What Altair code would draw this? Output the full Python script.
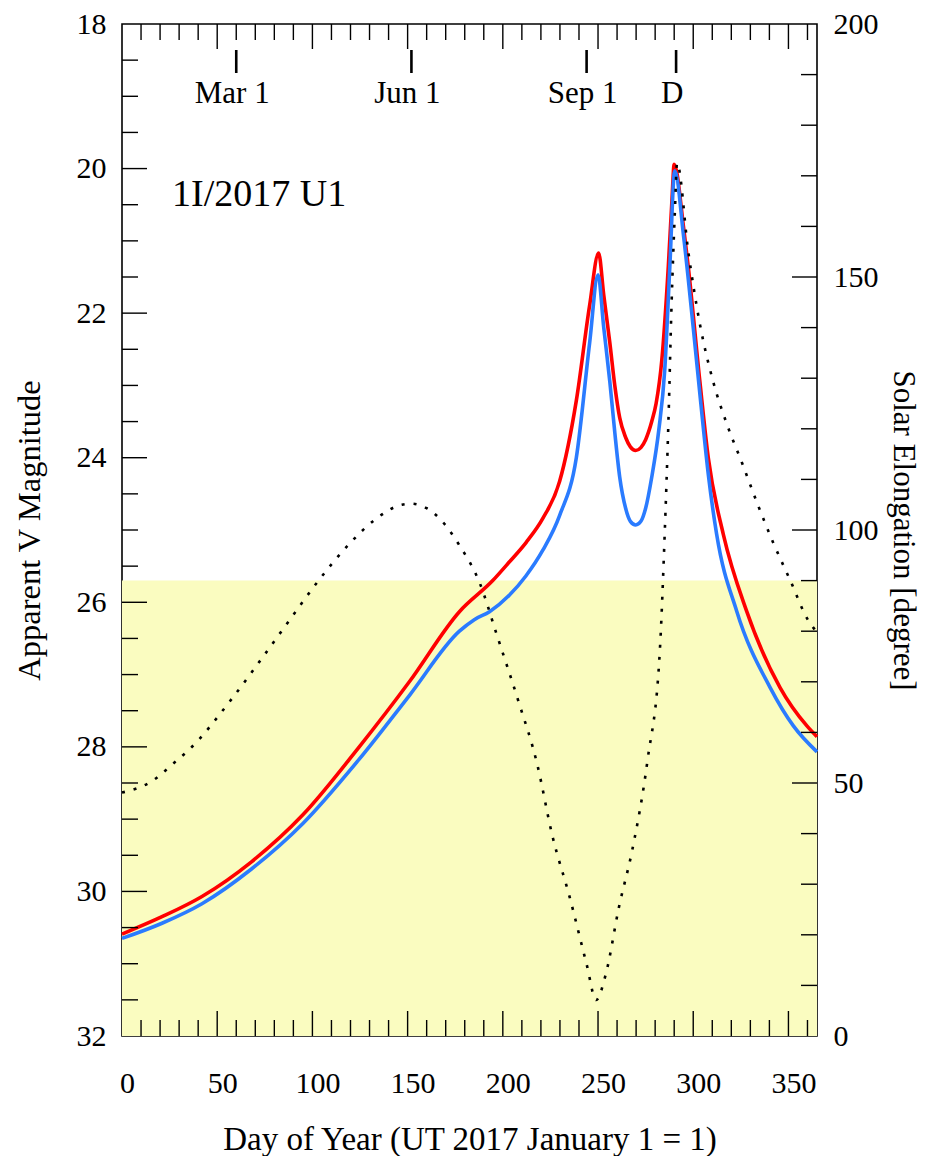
import altair as alt
import pandas as pd

# ---------------- data ----------------
red_day = [0, 21, 42, 68, 95, 124.6, 150.9, 177.2, 194.7, 203.5, 212.3, 221, 229.8,
           238.6, 245.6, 250.3, 253, 256.2, 258.8, 261.4, 264.5, 267, 269.8, 272.5,
           275, 278.2, 280.5, 283.5, 286.9, 288.8, 290, 295, 297.4, 303.5, 307.9,
           315.8, 328, 345.6, 359.7, 365]
red_mag = [30.59, 30.35, 30.07, 29.59, 28.94, 28.00, 27.10, 26.13, 25.70, 25.44,
           25.17, 24.84, 24.33, 23.21, 21.89, 21.17, 21.75, 22.41, 23.0, 23.45,
           23.72, 23.85, 23.90, 23.86, 23.75, 23.50, 23.25, 22.65, 21.36, 20.45,
           19.94, 20.83, 21.36, 22.95, 24.0, 25.06, 26.12, 27.18, 27.71, 27.86]

blue_day = [0, 21, 42, 68, 95, 124.6, 150.9, 177.2, 185, 193, 203.5, 212, 221,
            229.8, 238.6, 245.6, 250, 253, 256.2, 258.8, 261.4, 264.5, 267, 269.8,
            272.5, 275, 278.2, 282, 285, 287.7, 290.3, 295, 300, 304, 308, 312.3,
            322.8, 340.4, 352.6, 365]
blue_mag = [30.65, 30.44, 30.17, 29.69, 29.06, 28.17, 27.29, 26.40, 26.24, 26.13,
            25.90, 25.64, 25.28, 24.80, 24.0, 22.41, 21.47, 22.2, 22.95, 23.65,
            24.27, 24.70, 24.88, 24.93, 24.88, 24.70, 24.27, 23.6, 22.8, 21.36,
            20.03, 20.95, 22.2, 23.25, 24.25, 25.06, 26.12, 27.18, 27.71, 28.07]

elong_day = [0, 15, 28, 35, 58, 73, 88, 103, 120, 133, 147, 152, 160, 167, 177,
             188, 197, 208, 218, 226, 235, 244, 249, 254, 261, 268, 276, 282.5,
             285, 287, 288.6, 290.4, 291.5, 297.4, 303.5, 310.5, 317.6, 325.5,
             333.4, 342, 351, 360, 364.5]
elong_val = [48.1, 50.2, 54.2, 56.5, 66.8, 74.4, 82.2, 89.9, 97.5, 102.1, 105.0,
             105.2, 104.3, 102.2, 97.1, 89.4, 79.1, 66.4, 53.8, 39.6, 27.6, 14.2,
             7.1, 12.1, 25.5, 36.8, 54.5, 76.4, 99.1, 121.8, 144.4, 163.3, 172.5,
             155.0, 140.7, 129.3, 121.0, 113.4, 105.5, 97.5, 90.0, 82.4, 80.0]

shade_day = [0, 365]          # shaded band (elongation below 90 deg)
shade_elong = [0, 90]

marker_day = [60, 152, 244, 291]
marker_label = ["Mar 1", "Jun 1", "Sep 1", "D"]

x_label_values = [0, 50, 100, 150, 200, 250, 300, 350]
mag_label_values = [18, 20, 22, 24, 26, 28, 30, 32]
elong_label_values = [0, 50, 100, 150, 200]

x_minor = [d for d in range(10, 361, 10) if d % 50]
x_major = [50, 100, 150, 200, 250, 300, 350]
mag_minor = [18.5 + 0.5 * i for i in range(27) if (18.5 + 0.5 * i) % 2]
mag_major = [20, 22, 24, 26, 28, 30]
el_minor = [e for e in range(10, 191, 10) if e % 50]
el_major = [50, 100, 150]

object_name = "1I/2017 U1"

# ---------------- layout / style ----------------
W, H = 695, 1012
MIN_T, MAJ_T = 16, 25
F = "Liberation Serif"

xs = alt.Scale(domain=[0, 365], nice=False, zero=False)
ys_mag = alt.Scale(domain=[18, 32], reverse=True, nice=False, zero=False)
ys_el = alt.Scale(domain=[0, 200], nice=False, zero=False)

x_axis = alt.Axis(values=x_label_values, title="Day of Year (UT 2017 January 1 = 1)",
                  ticks=False, domain=False, grid=False, labelFlush=False,
                  labelOverlap=False, labelPadding=32, labelOffset=5,
                  labelFontSize=30, titleFontSize=33, titlePadding=25, format="d")
mag_axis = alt.Axis(values=mag_label_values, orient="left", title="Apparent V Magnitude",
                    ticks=False, domain=False, grid=False, labelPadding=16,
                    labelFontSize=30, titleFontSize=32.5, titlePadding=30,
                    labelOverlap=False, labelBound=False, format="d")
el_axis = alt.Axis(values=elong_label_values, orient="right",
                   title="Solar Elongation [degree]", ticks=False, domain=False,
                   grid=False, labelPadding=16, labelFontSize=30, titleFontSize=31,
                   titlePadding=8, labelOverlap=False, labelBound=False, format="d")

X = alt.X("day:Q", scale=xs, axis=x_axis)
Ymag = alt.Y("mag:Q", scale=ys_mag, axis=mag_axis)
Yel = alt.Y("el:Q", scale=ys_el, axis=el_axis)

# ---------------- layers ----------------
df_shade = pd.DataFrame({"day": [shade_day[0]], "day2": [shade_day[1]],
                         "el": [shade_elong[0]], "el2": [shade_elong[1]]})
shade = alt.Chart(df_shade).mark_rect(color="#fafcc0").encode(
    x=X, x2="day2:Q",
    y=alt.Y("el:Q", scale=ys_el, axis=None), y2="el2:Q")

df_red = pd.DataFrame({"day": red_day, "mag": red_mag})
df_blue = pd.DataFrame({"day": blue_day, "mag": blue_mag})
red_line = alt.Chart(df_red).mark_line(color="#ff0000", strokeWidth=3.6,
                                       interpolate="monotone").encode(x=X, y=Ymag)
blue_line = alt.Chart(df_blue).mark_line(color="#2a7bff", strokeWidth=3.6,
                                         interpolate="monotone").encode(x=X, y=Ymag)

tick_style = dict(color="black", strokeWidth=1.4)

def x_ticks(days, length):
    d = pd.DataFrame({"day": days})
    top = alt.Chart(d).mark_rule(**tick_style).encode(
        x=X, y=alt.value(0), y2=alt.value(length))
    bot = alt.Chart(d).mark_rule(**tick_style).encode(
        x=X, y=alt.value(H - length), y2=alt.value(H))
    return [top, bot]

def mag_ticks(vals, length):
    d = pd.DataFrame({"mag": vals})
    return alt.Chart(d).mark_rule(**tick_style).encode(
        y=Ymag, x=alt.value(0), x2=alt.value(length))

def el_ticks(vals, length):
    d = pd.DataFrame({"el": vals})
    return alt.Chart(d).mark_rule(**tick_style).encode(
        y=Yel, x=alt.value(W - length), x2=alt.value(W))

df_mark = pd.DataFrame({"day": marker_day, "label": marker_label})
mark_rules = alt.Chart(df_mark).mark_rule(color="black", strokeWidth=2.6).encode(
    x=X, y=alt.value(26), y2=alt.value(49))
mark_text = alt.Chart(df_mark).mark_text(font=F, fontSize=31, baseline="middle",
                                         align="center", color="black", dx=-4).encode(
    x=X, y=alt.value(70), text="label:N")

title_txt = alt.Chart(pd.DataFrame({"t": [object_name]})).mark_text(
    font=F, fontSize=38, align="left", baseline="middle", color="black").encode(
    x=alt.value(50), y=alt.value(171), text="t:N")

left_group = alt.layer(
    red_line, blue_line,
    mag_ticks(mag_minor, MIN_T), mag_ticks(mag_major, MAJ_T),
    *x_ticks(x_minor, MIN_T), *x_ticks(x_major, MAJ_T),
    mark_rules, mark_text, title_txt,
)

df_el = pd.DataFrame({"day": elong_day, "el": elong_val})
dotted = alt.Chart(df_el).mark_line(color="black", strokeWidth=2.6,
                                    strokeDash=[3, 9], interpolate="monotone").encode(
    x=X, y=Yel)
right_group = alt.layer(dotted, el_ticks(el_minor, MIN_T), el_ticks(el_major, MAJ_T))

chart = alt.layer(shade, left_group, right_group).resolve_scale(
    y="independent"
).properties(
    width=W, height=H,
    autosize=alt.AutoSizeParams(type="none"),
    padding={"left": 114, "top": 16, "right": 103, "bottom": 120},
).configure_view(
    stroke="black", strokeWidth=1.6
).configure_axis(
    labelFont=F, titleFont=F, labelColor="black", titleColor="black",
    titleFontWeight="normal"
)

chart.save("out.html", embed_options={"renderer": "svg", "actions": False})
